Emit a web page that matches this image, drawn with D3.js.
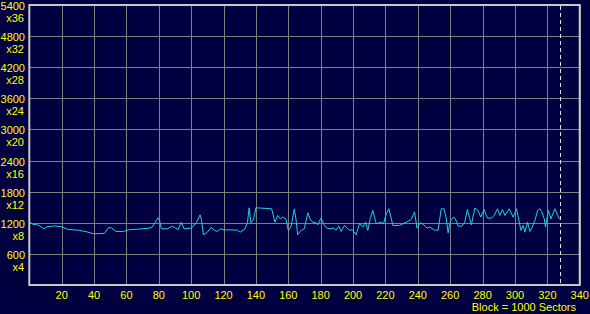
<!DOCTYPE html>
<html>
<head>
<meta charset="utf-8">
<script src="https://cdn.jsdelivr.net/npm/d3@7/dist/d3.min.js"></script>
<style>
  html, body { margin: 0; padding: 0; background: #000040; }
  svg { display: block; }
  text { font-family: "Liberation Sans", Arial, sans-serif; font-size: 11px; fill: #ffff00; }
</style>
</head>
<body>
<div id="chart"></div>
<script>
// data: block number (x1000 sectors) and transfer rate
var blocks = [0, 2.5, 4.5, 6.6, 9.1, 10.7, 13.8, 15.5, 20, 24, 30.3, 35.5, 39.6, 46.4, 49, 51, 53.5, 58.2, 61.3, 67.5, 72.7, 75.8, 79.5, 80.5, 81.5,
  85.3, 88.4, 90.4, 91.9, 93.9, 95.6, 100.1, 103.4, 105.5, 106.3, 107.6, 110, 112.5, 114.2, 116.2, 117.9, 120.4, 128.6, 130.3, 133.2, 134.8, 135.8, 136.9, 138.5, 140, 143, 149.7, 151.7, 153.4, 155, 156.5, 158.5, 160, 161.6, 163.7, 164.7, 165.8,
  167.8, 169.9, 172, 173.4, 175, 177.1, 178.1, 180.2, 182.3, 183.7, 185.8, 187.9, 189.5, 191.2, 192.6, 194.7, 197.3, 199.8, 201.9, 204, 206, 207.7, 209.1, 210.6, 212.2, 214.3, 217.4, 218.8, 220.5, 222.1, 224.6, 228.7, 232.9, 235.9, 238, 239.5, 241.5, 243.2, 245.6, 247.3,
  250.4, 252.5, 254.5, 256.2, 257.6, 258.7, 259.7, 260.7, 262.4, 263.2, 264.9, 267.3, 269, 270.6, 272.1, 273.1, 275.2, 277.2, 278.9, 280.9, 283, 285.5, 287.1, 289.2, 290.7, 292.3, 293.8, 296.4, 298.9, 301, 303.7, 305.1, 306.1, 307.8, 309.2, 310.7, 312.3, 314, 315.4, 316.5, 318.1, 318.9, 320.6, 322.2, 324.7, 326.8, 327.8];
var rate = [1210, 1168, 1168, 1136, 1084, 1123, 1130, 1142, 1123, 1071, 1058, 1026, 988, 994, 1110, 1097, 1033, 1033, 1065, 1078, 1091, 1110, 1296, 1245, 1084,
  1084, 1136, 1097, 1065, 1213, 1084, 1097, 1213, 1354, 1264, 969, 1020, 1116, 1058, 1033, 1084, 1065, 1058, 1020, 1084, 1213, 1489, 1200, 1264, 1489, 1483, 1470, 1213, 1341, 1277, 1309, 1277, 1052, 1116, 1470, 1277, 969,
  1052, 1084, 1393, 1277, 1213, 1200, 1161, 1290, 1149, 1097, 1084, 1097, 1058, 1136, 1033, 1149, 1065, 1058, 969, 1187, 1116, 1213, 1052, 1277, 1438, 1181, 1213, 1181, 1374, 1470, 1149, 1149, 1213, 1264, 1406, 1097, 1200, 1174, 1097, 1116,
  1058, 1058, 1470, 1470, 1277, 1007, 1181, 1264, 1309, 1277, 1136, 1136, 1213, 1457, 1277, 1161, 1483, 1438, 1309, 1457, 1290, 1290, 1341, 1470, 1341, 1457, 1341, 1470, 1309, 1470, 1052, 1149, 1020, 1213, 1033, 1116, 1245, 1438, 1470, 1418, 1277, 1116, 1438, 1277, 1470, 1309, 1264];

var yTicks = [600, 1200, 1800, 2400, 3000, 3600, 4200, 4800, 5400];
var yMult = ['x4', 'x8', 'x12', 'x16', 'x20', 'x24', 'x28', 'x32', 'x36'];
var xTicks = [20, 40, 60, 80, 100, 120, 140, 160, 180, 200, 220, 240, 260, 280, 300, 320, 340];
var endBlock = 328;
var xLabel = 'Block = 1000 Sectors';

var width = 590, height = 314;
var svg = d3.select('#chart').append('svg')
  .attr('width', width)
  .attr('height', height);

svg.append('rect').attr('width', width).attr('height', height).attr('fill', '#000040');

var x = d3.scaleLinear().domain([0, 340]).range([29.3, 579.7]);
var y = d3.scaleLinear().domain([0, 5400]).range([285, 5]);

// grid
svg.append('g').selectAll('line.h').data(yTicks).enter().append('line')
  .attr('x1', x(0)).attr('x2', x(340))
  .attr('y1', function (d) { return Math.round(y(d)) + 0.5; })
  .attr('y2', function (d) { return Math.round(y(d)) + 0.5; })
  .attr('stroke', '#808080').attr('stroke-width', 1);

svg.append('g').selectAll('line.v').data(xTicks).enter().append('line')
  .attr('x1', function (d) { return Math.round(x(d)) + 0.5; })
  .attr('x2', function (d) { return Math.round(x(d)) + 0.5; })
  .attr('y1', y(5400)).attr('y2', y(0))
  .attr('stroke', '#808080').attr('stroke-width', 1);

// end marker
svg.append('line')
  .attr('x1', Math.round(x(endBlock)) + 0.5).attr('x2', Math.round(x(endBlock)) + 0.5)
  .attr('y1', y(5400) + 1).attr('y2', y(0))
  .attr('stroke', '#e0e0e0').attr('stroke-width', 1)
  .attr('stroke-dasharray', '4,3');

// series
var pts = blocks.map(function (b, i) { return [b, rate[i]]; });
var line = d3.line()
  .x(function (d) { return x(d[0]); })
  .y(function (d) { return y(d[1]); });
svg.append('path').datum(pts)
  .attr('d', line)
  .attr('fill', 'none')
  .attr('stroke', '#20d0e0')
  .attr('stroke-width', 1);

// frame
svg.append('rect')
  .attr('x', x(0)).attr('y', y(5400))
  .attr('width', x(340) - x(0)).attr('height', y(0) - y(5400))
  .attr('fill', 'none').attr('stroke', '#c8c8c8').attr('stroke-width', 2);

// y labels
var yl = svg.append('g');
yl.selectAll('text.v').data(yTicks).enter().append('text')
  .attr('x', 25).attr('y', function (d) { return y(d) + 5; })
  .attr('text-anchor', 'end')
  .text(function (d) { return d; });
yl.selectAll('text.m').data(yTicks).enter().append('text')
  .attr('x', 24).attr('y', function (d) { return y(d) + 17; })
  .attr('text-anchor', 'end')
  .text(function (d, i) { return yMult[i]; });

// x labels
svg.append('g').selectAll('text').data(xTicks).enter().append('text')
  .attr('x', function (d) { return x(d); }).attr('y', 299)
  .attr('text-anchor', 'middle')
  .text(function (d) { return d; });

svg.append('text')
  .attr('x', 576).attr('y', 311)
  .attr('text-anchor', 'end')
  .text(xLabel);
</script>
</body>
</html>
